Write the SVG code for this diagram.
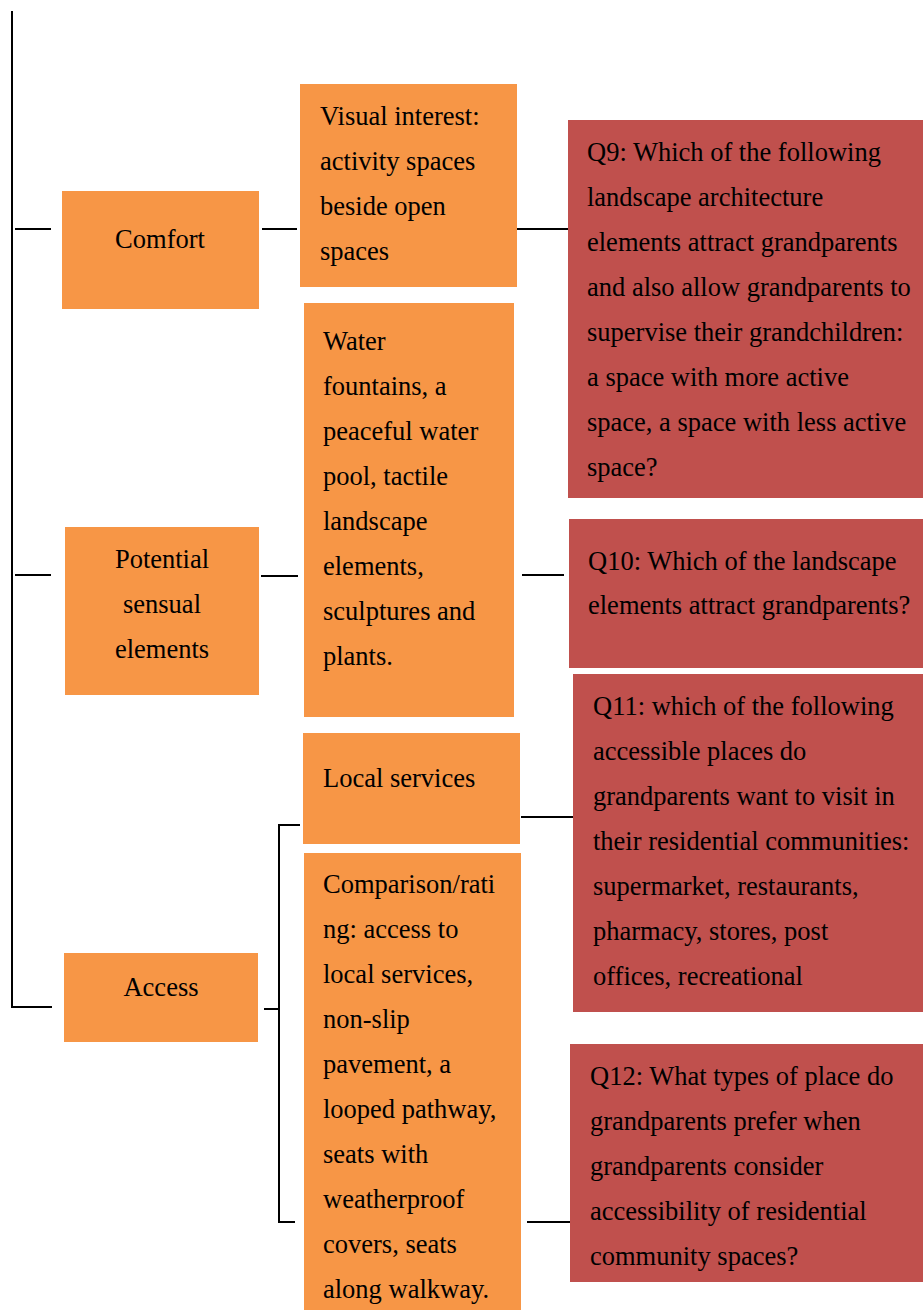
<svg xmlns="http://www.w3.org/2000/svg" width="923" height="1310" viewBox="0 0 923 1310">
<style>
.o{fill:#F79646}
.r{fill:#C0504D}
text{font-family:"Liberation Serif","Times New Roman",serif;font-size:26.5px;fill:#000}
.c{text-anchor:middle}
.ln{stroke:#000;stroke-width:2;fill:none}
</style>
<rect width="923" height="1310" fill="#fff"/>
<g id="connectors">
<path class="ln" d="M12,11 V1007 H52"/>
<path class="ln" d="M15,229 H51"/>
<path class="ln" d="M262,229 H297"/>
<path class="ln" d="M517,229 H568"/>
<path class="ln" d="M15,575 H51"/>
<path class="ln" d="M261,576 H298"/>
<path class="ln" d="M522,575 H564"/>
<path class="ln" d="M521,817 H573"/>
<path class="ln" d="M264,1009 H279"/>
<path class="ln" d="M300,825 H279 V1222 H295"/>
<path class="ln" d="M527,1222 H570"/>
</g>
<g id="comfort">
<rect class="o" x="62" y="191" width="197" height="118"/>
<text class="c" x="160" y="248">Comfort</text>
</g>
<g id="visual">
<rect class="o" x="300" y="84" width="217" height="203"/>
<text x="320" y="125">Visual interest:</text>
<text x="320" y="170">activity spaces</text>
<text x="320" y="215">beside open</text>
<text x="320" y="260">spaces</text>
</g>
<g id="q9">
<rect class="r" x="568" y="120" width="355" height="378"/>
<text x="587" y="161">Q9: Which of the following</text>
<text x="587" y="206">landscape architecture</text>
<text x="587" y="251">elements attract grandparents</text>
<text x="587" y="296">and also allow grandparents to</text>
<text x="587" y="341">supervise their grandchildren:</text>
<text x="587" y="386">a space with more active</text>
<text x="587" y="431">space, a space with less active</text>
<text x="587" y="476">space?</text>
</g>
<g id="potential">
<rect class="o" x="65" y="527" width="194" height="168"/>
<text class="c" x="162" y="568">Potential</text>
<text class="c" x="162" y="613">sensual</text>
<text class="c" x="162" y="658">elements</text>
</g>
<g id="water">
<rect class="o" x="304" y="303" width="210" height="414"/>
<text x="323" y="350">Water</text>
<text x="323" y="395">fountains, a</text>
<text x="323" y="440">peaceful water</text>
<text x="323" y="485">pool, tactile</text>
<text x="323" y="530">landscape</text>
<text x="323" y="575">elements,</text>
<text x="323" y="620">sculptures and</text>
<text x="323" y="665">plants.</text>
</g>
<g id="q10">
<rect class="r" x="569" y="519" width="354" height="149"/>
<text x="588" y="570">Q10: Which of the landscape</text>
<text x="588" y="614">elements attract grandparents?</text>
</g>
<g id="local">
<rect class="o" x="303" y="733" width="217" height="111"/>
<text x="323" y="787">Local services</text>
</g>
<g id="q11">
<rect class="r" x="573" y="674" width="350" height="338"/>
<text x="593" y="715">Q11: which of the following</text>
<text x="593" y="760">accessible places do</text>
<text x="593" y="805">grandparents want to visit in</text>
<text x="593" y="850">their residential communities:</text>
<text x="593" y="895">supermarket, restaurants,</text>
<text x="593" y="940">pharmacy, stores, post</text>
<text x="593" y="985">offices, recreational</text>
</g>
<g id="comparison">
<rect class="o" x="304" y="853" width="217" height="457"/>
<text x="323" y="893">Comparison/rati</text>
<text x="323" y="938">ng: access to</text>
<text x="323" y="983">local services,</text>
<text x="323" y="1028">non-slip</text>
<text x="323" y="1073">pavement, a</text>
<text x="323" y="1118">looped pathway,</text>
<text x="323" y="1163">seats with</text>
<text x="323" y="1208">weatherproof</text>
<text x="323" y="1253">covers, seats</text>
<text x="323" y="1298">along walkway.</text>
</g>
<g id="access">
<rect class="o" x="64" y="953" width="194" height="89"/>
<text class="c" x="161" y="996">Access</text>
</g>
<g id="q12">
<rect class="r" x="570" y="1044" width="353" height="238"/>
<text x="590" y="1085">Q12: What types of place do</text>
<text x="590" y="1130">grandparents prefer when</text>
<text x="590" y="1175">grandparents consider</text>
<text x="590" y="1220">accessibility of residential</text>
<text x="590" y="1265">community spaces?</text>
</g>
</svg>
